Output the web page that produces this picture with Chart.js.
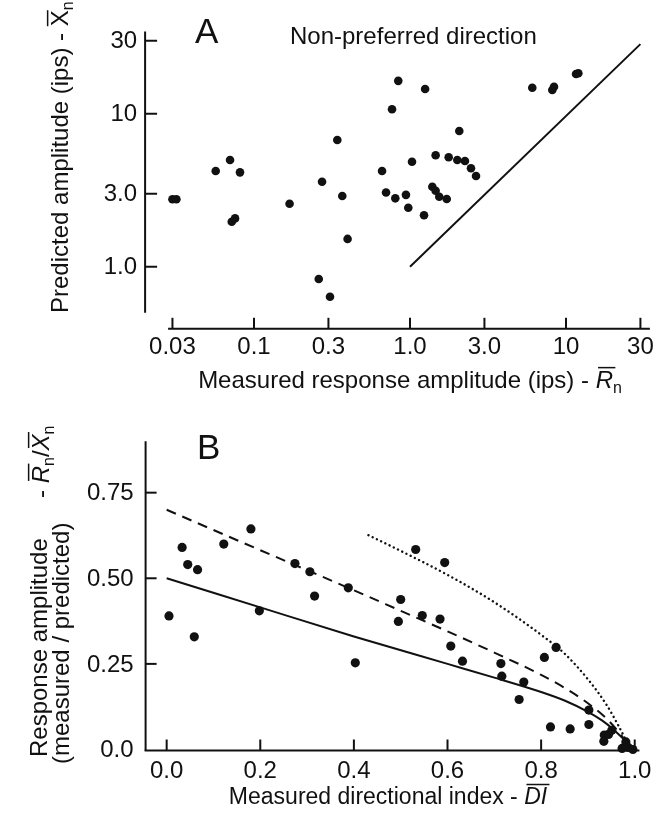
<!DOCTYPE html>
<html>
<head>
<meta charset="utf-8">
<script src="https://cdn.jsdelivr.net/npm/chart.js@4.4.1/dist/chart.umd.min.js"></script>
<style>
  html, body { margin: 0; padding: 0; background: #fff; }
  #wrapA { position: absolute; left: 0; top: 0; width: 672px; height: 400px; }
  #wrapB { position: absolute; left: 0; top: 400px; width: 672px; height: 416px; }
</style>
</head>
<body>
<div id="wrapA"><canvas id="chartA"></canvas></div>
<div id="wrapB"><canvas id="chartB"></canvas></div>
<script>
// ---- panel A data (log-log) ----
const aMeasured  = [0.0300, 0.0318, 0.0568, 0.0702, 0.0813, 0.0720, 0.0756, 0.169, 0.273, 0.342,
                    0.368, 0.398, 0.260, 0.307, 0.662, 0.702, 0.805, 0.942, 0.975, 1.23,
                    0.767, 0.841, 1.25, 1.03, 6.08, 8.17, 8.38, 11.6, 12.0, 2.07,
                    1.46, 1.77, 2.01, 2.25, 2.46, 2.65, 1.39, 1.46, 1.54, 1.72];
const aPredicted = [2.76, 2.76, 4.22, 4.98, 4.14, 1.97, 2.07, 2.58, 3.59, 6.73,
                    2.90, 1.52, 0.831, 0.637, 4.22, 3.06, 2.80, 2.95, 2.43, 2.17,
                    10.7, 16.4, 14.5, 4.86, 14.8, 14.3, 15.0, 18.2, 18.4, 7.71,
                    5.35, 5.19, 4.98, 4.91, 4.40, 3.92, 3.33, 3.14, 2.87, 2.77];
const aLineX = [1, 30];
const aLineY = [1, 28.5];
const aXTicks = [0.03, 0.1, 0.3, 1, 3, 10, 30];
const aXTickLabels = ['0.03', '0.1', '0.3', '1.0', '3.0', '10', '30'];
const aYTicks = [1, 3, 10, 30];
const aYTickLabels = ['1.0', '3.0', '10', '30'];

// ---- panel B data ----
const bDI    = [0.005, 0.033, 0.045, 0.066, 0.059, 0.122, 0.18, 0.198, 0.274, 0.306,
                0.316, 0.388, 0.403, 0.50, 0.495, 0.532, 0.546, 0.584, 0.594, 0.607,
                0.632, 0.714, 0.716, 0.763, 0.753, 0.807, 0.832, 0.82, 0.862, 0.902,
                0.902, 0.935, 0.934, 0.944, 0.951, 0.981, 0.973, 0.986, 0.996];
const bRatio = [0.39, 0.59, 0.54, 0.525, 0.329, 0.60, 0.644, 0.405, 0.543, 0.519,
                0.448, 0.472, 0.253, 0.438, 0.374, 0.584, 0.391, 0.381, 0.546, 0.302,
                0.258, 0.251, 0.214, 0.197, 0.146, 0.269, 0.298, 0.066, 0.060, 0.115,
                0.073, 0.042, 0.024, 0.044, 0.056, 0.022, 0.003, 0.006, 0.0];
const solidX  = [0, 0.2, 0.4, 0.6, 0.7, 0.8, 0.85, 0.9, 0.93, 0.955, 0.975, 0.99, 0.995];
const solidY  = [0.50, 0.415, 0.33, 0.25, 0.21, 0.168, 0.143, 0.11, 0.085, 0.058, 0.032, 0.01, 0.0];
const dashX   = [0, 0.2, 0.4, 0.5, 0.6, 0.7, 0.8, 0.85, 0.9, 0.94, 0.965, 0.98, 0.99];
const dashY   = [0.70, 0.582, 0.465, 0.405, 0.345, 0.283, 0.218, 0.18, 0.135, 0.09, 0.052, 0.025, 0.0];
const dotX    = [0.431, 0.5, 0.6, 0.7, 0.8, 0.85, 0.9, 0.94, 0.965, 0.98, 0.99];
const dotY    = [0.626, 0.58, 0.51, 0.43, 0.335, 0.28, 0.205, 0.13, 0.07, 0.03, 0.0];
const bXTicks = [0, 0.2, 0.4, 0.6, 0.8, 1.0];
const bXTickLabels = ['0.0', '0.2', '0.4', '0.6', '0.8', '1.0'];
const bYTicks = [0, 0.25, 0.5, 0.75];
const bYTickLabels = ['0.0', '0.25', '0.50', '0.75'];

const FONT = '"Liberation Sans", Arial, Helvetica, sans-serif';
const INK = '#111';

function pts(xs, ys) { return xs.map((v, i) => ({ x: v, y: ys[i] })); }

function fontFor(p, size) {
  return (p.i ? 'italic ' : '') + (p.sub ? Math.round(size * 0.68) : size) + 'px ' + FONT;
}

// draws text made of pieces, some italic / overbarred / subscript
function drawRich(ctx, parts, x, y, size, align) {
  ctx.textAlign = 'left';
  ctx.textBaseline = 'alphabetic';
  const widths = parts.map(p => { ctx.font = fontFor(p, size); return ctx.measureText(p.t).width; });
  const total = widths.reduce((a, b) => a + b, 0);
  let cx = align === 'center' ? x - total / 2 : (align === 'right' ? x - total : x);
  parts.forEach((p, k) => {
    ctx.font = fontFor(p, size);
    ctx.fillText(p.t, cx, p.sub ? y + size * 0.22 : y);
    if (p.bar) ctx.fillRect(cx + (p.i ? size * 0.1 : 0), y - size * 0.88, widths[k], 1.5);
    cx += widths[k];
  });
}

function drawRotated(ctx, parts, x, y, size) {
  ctx.save();
  ctx.translate(x, y);
  ctx.rotate(-Math.PI / 2);
  drawRich(ctx, parts, 0, 0, size, 'left');
  ctx.restore();
}

function line(ctx, x1, y1, x2, y2) {
  ctx.beginPath(); ctx.moveTo(x1, y1); ctx.lineTo(x2, y2); ctx.stroke();
}

const axesA = {
  id: 'axesA',
  afterDraw(chart) {
    const { ctx, chartArea } = chart;
    const xs = chart.scales.x, ys = chart.scales.y;
    ctx.save();
    ctx.strokeStyle = INK; ctx.fillStyle = INK; ctx.lineWidth = 2;

    // y axis (offset to the left)
    const ax = chartArea.left - 15;
    line(ctx, ax, chartArea.top + 1, ax, chartArea.bottom);
    ctx.font = '24px ' + FONT; ctx.textAlign = 'right'; ctx.textBaseline = 'middle';
    aYTicks.forEach((v, i) => {
      const py = ys.getPixelForValue(v);
      line(ctx, ax, py, ax + 12, py);
      ctx.fillText(aYTickLabels[i], ax - 8, py + 1);
    });

    // x axis (offset below)
    const ay = chartArea.bottom + 16;
    line(ctx, chartArea.left + 8, ay, chartArea.right - 10, ay);
    ctx.textAlign = 'center'; ctx.textBaseline = 'alphabetic';
    aXTicks.forEach((v, i) => {
      const px = xs.getPixelForValue(v);
      line(ctx, px, ay, px, ay - 11);
      ctx.fillText(aXTickLabels[i], px, ay + 25);
    });

    // titles
    drawRich(ctx, [{ t: 'Measured response amplitude (ips) - ' }, { t: 'R', i: true, bar: true }, { t: 'n', sub: true }],
      410, 388, 24, 'center');
    drawRotated(ctx, [{ t: 'Predicted amplitude (ips) - ' }, { t: 'X', bar: true }, { t: 'n', sub: true }], 68, 313, 24);
    ctx.font = '35px ' + FONT; ctx.textAlign = 'left';
    ctx.fillText('A', 195, 43);
    ctx.font = '24px ' + FONT;
    ctx.fillText('Non-preferred direction', 290, 44);
    ctx.restore();
  }
};

const axesB = {
  id: 'axesB',
  afterDraw(chart) {
    const { ctx, chartArea } = chart;
    const xs = chart.scales.x, ys = chart.scales.y;
    ctx.save();
    ctx.strokeStyle = INK; ctx.fillStyle = INK; ctx.lineWidth = 2;

    const ax = chartArea.left;
    const ay = ys.getPixelForValue(0) + 1;
    line(ctx, ax, chartArea.top, ax, ay);
    line(ctx, ax - 1, ay, xs.getPixelForValue(1.01), ay);

    ctx.font = '24px ' + FONT; ctx.textAlign = 'right'; ctx.textBaseline = 'middle';
    bYTicks.forEach((v, i) => {
      const py = ys.getPixelForValue(v);
      if (v > 0) line(ctx, ax, py, ax + 11, py);
      ctx.fillText(bYTickLabels[i], ax - 12, py + 1);
    });
    ctx.textAlign = 'center'; ctx.textBaseline = 'alphabetic';
    bXTicks.forEach((v, i) => {
      const px = xs.getPixelForValue(v);
      line(ctx, px, ay, px, ay - 11);
      ctx.fillText(bXTickLabels[i], px, ay + 27);
    });

    drawRich(ctx, [{ t: 'Measured directional index - ' }, { t: 'DI', i: true, bar: true }], 388, 404, 23, 'center');
    drawRotated(ctx, [{ t: 'Response amplitude' }], 47, 357, 24);
    drawRotated(ctx, [{ t: '- ' }, { t: 'R', i: true, bar: true }, { t: 'n', sub: true }, { t: '/' },
      { t: 'X', i: true, bar: true }, { t: 'n', sub: true }], 49, 98, 24);
    drawRotated(ctx, [{ t: '(measured / predicted)' }], 69, 364, 24);
    ctx.font = '35px ' + FONT; ctx.textAlign = 'left';
    ctx.fillText('B', 197, 59);
    ctx.restore();
  }
};

new Chart(document.getElementById('chartA'), {
  type: 'scatter',
  data: {
    datasets: [
      { data: pts(aLineX, aLineY), showLine: true, borderColor: INK, borderWidth: 2, pointRadius: 0, clip: false },
      { data: pts(aMeasured, aPredicted), backgroundColor: INK, borderWidth: 0, pointRadius: 4.3, clip: false }
    ]
  },
  options: {
    responsive: true, maintainAspectRatio: false, animation: false, devicePixelRatio: 1,
    layout: { padding: { left: 160.1, right: 12.1, top: 30.5, bottom: 87.2 } },
    plugins: { legend: { display: false }, tooltip: { enabled: false } },
    scales: {
      x: { type: 'logarithmic', min: 0.025, max: 40, display: false },
      y: { type: 'logarithmic', min: 0.5, max: 35, display: false }
    }
  },
  plugins: [axesA]
});

new Chart(document.getElementById('chartB'), {
  type: 'scatter',
  data: {
    datasets: [
      { data: pts(solidX, solidY), showLine: true, borderColor: INK, borderWidth: 2, pointRadius: 0,
        cubicInterpolationMode: 'monotone', clip: false },
      { data: pts(dashX, dashY), showLine: true, borderColor: INK, borderWidth: 2, borderDash: [10, 7], pointRadius: 0,
        cubicInterpolationMode: 'monotone', clip: false },
      { data: pts(dotX, dotY), showLine: true, borderColor: INK, borderWidth: 2.4, borderDash: [0.1, 4.6],
        borderCapStyle: 'round', pointRadius: 0, cubicInterpolationMode: 'monotone', clip: false },
      { data: pts(bDI, bRatio), backgroundColor: INK, borderWidth: 0, pointRadius: 4.6, clip: false }
    ]
  },
  options: {
    responsive: true, maintainAspectRatio: false, animation: false, devicePixelRatio: 1,
    layout: { padding: { left: 145.6, right: 27.9, top: 41.3, bottom: 66.5 } },
    plugins: { legend: { display: false }, tooltip: { enabled: false } },
    scales: {
      x: { type: 'linear', min: -0.045, max: 1.02, display: false },
      y: { type: 'linear', min: 0, max: 0.9, display: false }
    }
  },
  plugins: [axesB]
});
</script>
</body>
</html>
